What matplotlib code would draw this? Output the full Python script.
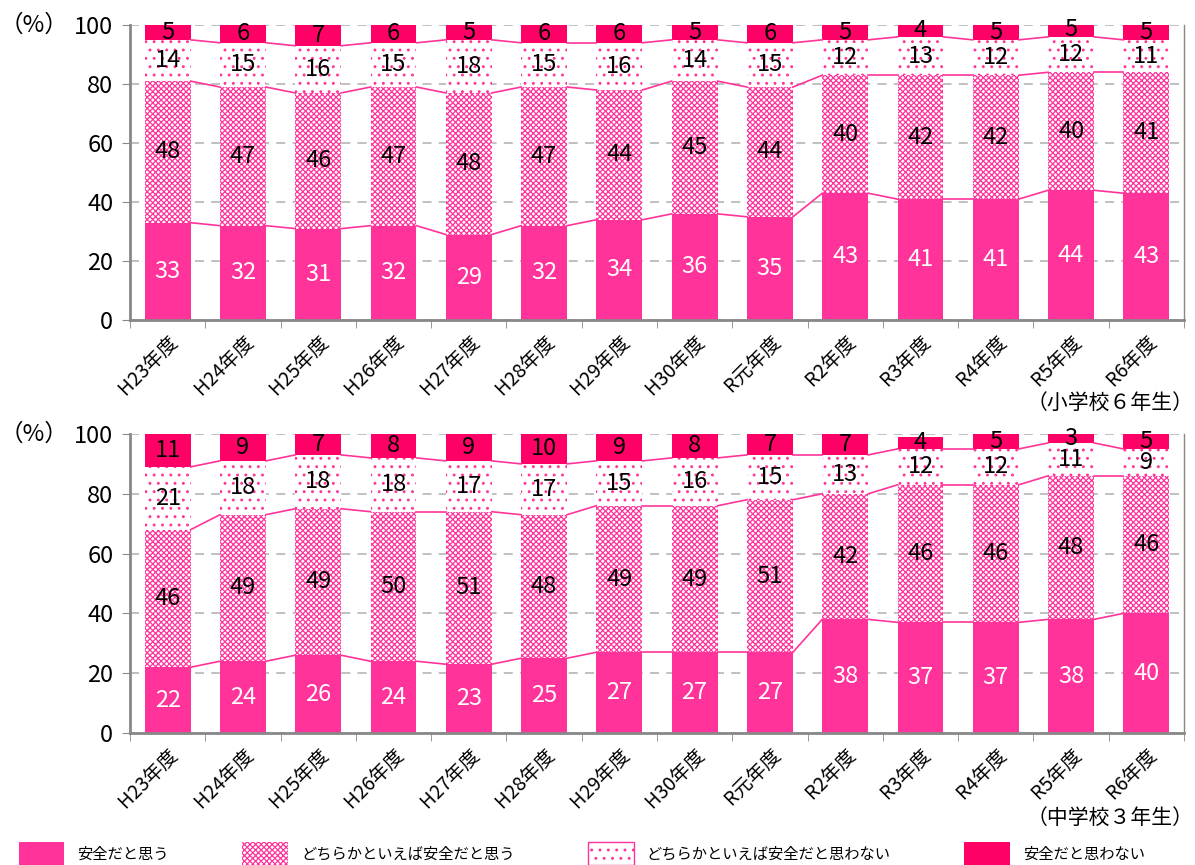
import numpy as np
import matplotlib
matplotlib.use('Agg')
import matplotlib.pyplot as plt
import matplotlib.transforms as mtransforms
from matplotlib.patches import Patch

plt.rcParams['font.family'] = ['Noto Sans CJK JP', 'DejaVu Sans']
plt.rcParams['hatch.linewidth'] = 0.9

# データ
years = ['H23年度', 'H24年度', 'H25年度', 'H26年度', 'H27年度', 'H28年度', 'H29年度',
         'H30年度', 'R元年度', 'R2年度', 'R3年度', 'R4年度', 'R5年度', 'R6年度']
series_names = ['安全だと思う', 'どちらかといえば安全だと思う',
                'どちらかといえば安全だと思わない', '安全だと思わない']

# 小学校6年生
elem_safe = [33, 32, 31, 32, 29, 32, 34, 36, 35, 43, 41, 41, 44, 43]
elem_rather_safe = [48, 47, 46, 47, 48, 47, 44, 45, 44, 40, 42, 42, 40, 41]
elem_rather_unsafe = [14, 15, 16, 15, 18, 15, 16, 14, 15, 12, 13, 12, 12, 11]
elem_unsafe = [5, 6, 7, 6, 5, 6, 6, 5, 6, 5, 4, 5, 5, 5]

# 中学校3年生
jh_safe = [22, 24, 26, 24, 23, 25, 27, 27, 27, 38, 37, 37, 38, 40]
jh_rather_safe = [46, 49, 49, 50, 51, 48, 49, 49, 51, 42, 46, 46, 48, 46]
jh_rather_unsafe = [21, 18, 18, 18, 17, 17, 15, 16, 15, 13, 12, 12, 11, 9]
jh_unsafe = [11, 9, 7, 8, 9, 10, 9, 8, 7, 7, 4, 5, 3, 5]

PINK = '#FF3399'
RED = '#FF0066'
W = 0.61

# 系列ごとのスタイル
styles = [
    dict(color=PINK, edgecolor=PINK, linewidth=0),
    dict(color='white', edgecolor=PINK, hatch='xxxxxx', linewidth=0),
    dict(color='white', edgecolor=PINK, hatch='..', linewidth=0),
    dict(color=RED, edgecolor=RED, linewidth=0),
]
label_colors = ['white', 'black', 'black', 'black']


def draw(ax, data):
    x = np.arange(len(years))
    bottom = np.zeros(len(years))
    for k, vals in enumerate(data):
        vals = np.array(vals, dtype=float)
        ax.bar(x, vals, W, bottom=bottom, zorder=2, **styles[k])
        top = bottom + vals
        # 区分線
        if k < 3:
            for i in range(len(x) - 1):
                ax.plot([x[i] + W / 2, x[i + 1] - W / 2], [top[i], top[i + 1]],
                        color=PINK, lw=1.2, zorder=3)
        for i in range(len(x)):
            ax.text(x[i], bottom[i] + vals[i] / 2, str(int(vals[i])), ha='center', va='center',
                    fontsize=17, color=label_colors[k], zorder=4)
        bottom = top
    ax.set_xlim(-0.5, len(years) - 0.5)
    ax.set_ylim(0, 100)
    ax.set_yticks([0, 20, 40, 60, 80, 100])
    ax.set_xticks(np.arange(len(years) + 1) - 0.5, minor=True)
    ax.set_xticks(x)
    ax.set_xticklabels(years, rotation=45, ha='right', rotation_mode='anchor', fontsize=14)
    offset = mtransforms.ScaledTranslation(10 / 100, 0, fig.dpi_scale_trans)
    for lab in ax.get_xticklabels():
        lab.set_transform(lab.get_transform() + offset)
    ax.tick_params(axis='x', which='major', length=0, pad=8)
    ax.tick_params(axis='x', which='minor', length=6, color='#888888')
    ax.tick_params(axis='y', labelsize=17, length=6, color='#888888', pad=6)
    ax.grid(axis='y', color='#BBBBBB', linestyle=(0, (5, 4)), lw=1.3, zorder=0)
    ax.spines['top'].set_visible(False)
    ax.spines['left'].set_color('#888888')
    ax.spines['left'].set_linewidth(2)
    ax.spines['bottom'].set_color('#888888')
    ax.spines['bottom'].set_linewidth(2)
    ax.spines['right'].set_color('#888888')
    ax.spines['right'].set_linewidth(1)


fig = plt.figure(figsize=(11.95, 8.65), dpi=100)
ax1 = fig.add_axes([0.1088, 0.630, 0.882, 0.341])
ax2 = fig.add_axes([0.1088, 0.1526, 0.882, 0.3457])

draw(ax1, [elem_safe, elem_rather_safe, elem_rather_unsafe, elem_unsafe])
draw(ax2, [jh_safe, jh_rather_safe, jh_rather_unsafe, jh_unsafe])

fig.text(0.0, 0.971, '（%）', fontsize=17, va='center')
fig.text(0.0, 0.498, '（%）', fontsize=17, va='center')
fig.text(0.999, 0.534, '（小学校６年生）', fontsize=15, ha='right', va='center')
fig.text(0.999, 0.054, '（中学校３年生）', fontsize=15, ha='right', va='center')

handles = [Patch(facecolor=s['color'], edgecolor=s['edgecolor'], hatch=s.get('hatch'),
                 linewidth=(1 if k == 2 else 0))
           for k, s in enumerate(styles)]
fig.legend(handles, series_names, loc='lower left', bbox_to_anchor=(0.004, -0.016), ncol=4,
           frameon=False, fontsize=11, handlelength=3.0, handleheight=1.9, columnspacing=4.8,
           handletextpad=0.85)

plt.savefig('out.png', dpi=100)
